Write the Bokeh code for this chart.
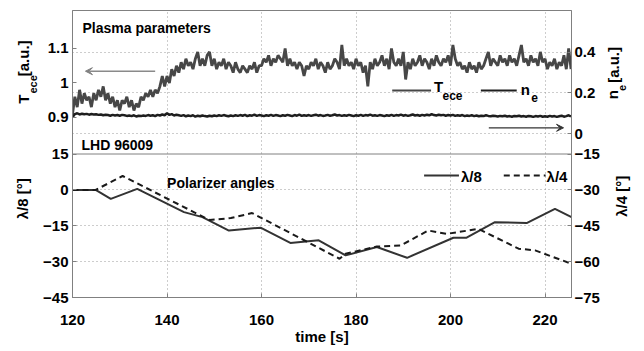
import numpy as np
from math import pi
from bokeh.plotting import figure
from bokeh.layouts import row
from bokeh.models import Range1d, LinearAxis, FixedTicker, Label, Arrow, VeeHead, Span
from bokeh.embed import file_html
from bokeh.resources import INLINE

# ---------------- data ----------------
sample_start = 120.0
sample_step = 0.5
t_ece = [
    0.91, 0.96, 0.93, 0.98, 0.94, 0.97, 0.95, 0.96, 0.93, 0.97,
    0.95, 0.98, 0.96, 0.99, 0.95, 0.97, 0.94, 0.96, 0.93, 0.95,
    0.92, 0.95, 0.94, 0.96, 0.93, 0.95, 0.92, 0.94, 0.93, 0.96,
    0.95, 0.97, 0.96, 0.98, 0.96, 0.98, 0.97, 0.99, 1.02, 0.99,
    1.02, 1.00, 1.04, 1.02, 1.05, 1.03, 1.06, 1.04, 1.07, 1.05,
    1.06, 1.04, 1.07, 1.09, 1.05, 1.07, 1.05, 1.08, 1.09, 1.05,
    1.07, 1.04, 1.06, 1.05, 1.07, 1.04, 1.06, 1.05, 1.03, 1.06,
    1.04, 1.03, 1.05, 1.04, 1.03, 1.05, 1.04, 1.06, 1.03, 1.05,
    1.05, 1.07, 1.06, 1.08, 1.05, 1.07, 1.06, 1.08, 1.07, 1.06,
    1.10, 1.05, 1.07, 1.05, 1.06, 1.04, 1.06, 1.05, 1.02, 1.05,
    1.04, 1.06, 1.05, 1.07, 1.04, 1.06, 1.05, 1.03, 1.06, 1.04,
    1.05, 1.07, 1.06, 1.04, 1.11, 1.05, 1.07, 1.05, 1.06, 1.04,
    1.07, 1.05, 1.06, 1.03, 1.05, 0.99, 1.06, 1.04, 1.07, 1.05,
    1.06, 1.08, 1.05, 1.07, 1.04, 1.10, 1.06, 1.05, 1.07, 1.05,
    1.09, 1.01, 1.06, 1.04, 1.07, 1.05, 1.06, 1.08, 1.05, 1.07,
    1.06, 1.04, 1.07, 1.05, 1.08, 1.06, 1.05, 1.07, 1.06, 1.08,
    1.05, 1.11, 1.07, 1.05, 1.06, 1.04, 1.05, 1.03, 1.06, 1.04,
    1.05, 1.03, 1.06, 1.04, 1.05, 1.07, 1.09, 1.05, 1.07, 1.06,
    1.05, 1.08, 1.06, 1.07, 1.05, 1.08, 1.06, 1.07, 1.05, 1.08,
    1.11, 1.06, 1.07, 1.05, 1.08, 1.06, 1.07, 1.05, 1.09, 1.06,
    1.07, 1.04, 1.06, 1.05, 1.07, 1.04, 1.06, 1.05, 1.08, 1.04,
    1.10, 1.04,
]
n_e = [
    0.080, 0.096, 0.100, 0.094, 0.098, 0.095, 0.097, 0.093, 0.096, 0.094,
    0.095, 0.092, 0.094, 0.090, 0.093, 0.091, 0.088, 0.092, 0.089, 0.091,
    0.088, 0.092, 0.090, 0.087, 0.089, 0.086, 0.090, 0.084, 0.088, 0.086,
    0.089, 0.087, 0.091, 0.088, 0.090, 0.086, 0.092, 0.089, 0.094, 0.090,
    0.100, 0.092, 0.096, 0.089, 0.093, 0.090, 0.087, 0.091, 0.085, 0.089,
    0.086, 0.090, 0.083, 0.088, 0.085, 0.089, 0.086, 0.084, 0.088, 0.085,
    0.089, 0.086, 0.090, 0.087, 0.091, 0.088, 0.085, 0.089, 0.086, 0.090,
    0.087, 0.091, 0.088, 0.092, 0.086, 0.090, 0.088, 0.093, 0.087, 0.091,
    0.089, 0.086, 0.090, 0.088, 0.092, 0.087, 0.091, 0.089, 0.086, 0.090,
    0.088, 0.092, 0.089, 0.086, 0.091, 0.088, 0.093, 0.087, 0.090, 0.088,
    0.091, 0.087, 0.090, 0.093, 0.088, 0.091, 0.087, 0.089, 0.092, 0.088,
    0.090, 0.094, 0.089, 0.091, 0.087, 0.090, 0.088, 0.092, 0.089, 0.086,
    0.090, 0.088, 0.092, 0.087, 0.091, 0.089, 0.093, 0.088, 0.090, 0.087,
    0.091, 0.089, 0.086, 0.090, 0.088, 0.092, 0.087, 0.091, 0.089, 0.093,
    0.088, 0.091, 0.087, 0.090, 0.094, 0.089, 0.091, 0.088, 0.092, 0.089,
    0.093, 0.090, 0.096, 0.091, 0.089, 0.093, 0.090, 0.092, 0.088, 0.091,
    0.089, 0.092, 0.087, 0.090, 0.088, 0.091, 0.086, 0.089, 0.087, 0.090,
    0.086, 0.089, 0.085, 0.088, 0.086, 0.090, 0.087, 0.085, 0.088, 0.086,
    0.084, 0.087, 0.085, 0.088, 0.084, 0.086, 0.083, 0.087, 0.085, 0.088,
    0.084, 0.086, 0.083, 0.087, 0.085, 0.082, 0.086, 0.084, 0.087, 0.083,
    0.085, 0.083, 0.087, 0.084, 0.086, 0.082, 0.085, 0.088, 0.083, 0.086,
    0.090, 0.084,
]
l8_time = [120, 124.9, 128.1, 133.7, 143.6, 147.5, 153.1, 159.8, 166.1, 172.1,
           177.8, 184.4, 190.8, 200.6, 203.4, 209.4, 216.1, 222.1, 225.6]
l8_angle = [0, 0, -3.75, 0.4, -9.3, -11.4, -17, -15.8, -22.2, -21.1,
            -27.4, -23.9, -28.4, -20, -20, -13.5, -13.9, -7.9, -11.4]
l4_time = [120, 124.9, 130.6, 149.0, 153.5, 158.0, 176.5, 177.8, 184.4, 189.4,
           195.3, 199.2, 205.9, 214.4, 217.9, 225.6]
l4_angle = [-30, -30, -24.2, -42.6, -41.8, -39.7, -58.8, -56.7, -53.7, -53.3,
            -47.0, -48.4, -46.3, -54.6, -55.3, -60.9]

x_ticks = [120, 140, 160, 180, 200, 220]
tece_ticks = [0.9, 1.0, 1.1]
tece_tick_labels = ["0.9", "1", "1.1"]
ne_ticks = [0.0, 0.2, 0.4]
ne_tick_labels = ["0", "0.2", "0.4"]
l8_ticks = [-45, -30, -15, 0, 15]
l8_tick_labels = ["\u221245", "\u221230", "\u221215", "0", "15"]
l4_ticks = [-75, -60, -45, -30, -15]
l4_tick_labels = ["\u221275", "\u221260", "\u221245", "\u221230", "\u221215"]

X_RANGE = (120.0, 225.6)
TECE_RANGE = (0.794, 1.210)
NE_RANGE = (-0.101, 0.607)
L8_RANGE = (-45.0, 15.0)
L4_RANGE = (-75.0, -15.0)

# ---------------- layout (page pixels) ----------------
H = 349
LEFT_W = 40          # left strip for the y titles
MAIN_W = 562         # main figure
RIGHT_W = 38         # right strip for the y titles
FL, FR, FT, FB = 72, 573, 10, 297   # frame edges on the page
FONT = "Liberation Sans"
FRAME_C = "#808080"

t_samples = sample_start + sample_step * np.arange(len(t_ece))

def tx(px):
    return X_RANGE[0] + (px - FL) / (FR - FL) * (X_RANGE[1] - X_RANGE[0])

def my(py):
    return (FB - py) / (FB - FT) * 2.0

def top_range(r):
    lo, hi = r
    return Range1d(lo - (hi - lo), hi)

def bot_range(r):
    lo, hi = r
    return Range1d(lo, hi + (hi - lo))

def pos_top(v, r):
    return 1.0 + (v - r[0]) / (r[1] - r[0])

def pos_bot(v, r):
    return (v - r[0]) / (r[1] - r[0])

p = figure(width=MAIN_W, height=H, x_range=Range1d(*X_RANGE), y_range=Range1d(0, 2),
           output_backend="svg", toolbar_location=None,
           min_border_left=FL - LEFT_W, min_border_right=LEFT_W + MAIN_W - FR,
           min_border_top=FT, min_border_bottom=H - FB)
p.background_fill_color = "white"
p.border_fill_color = "white"
p.outline_line_color = FRAME_C
p.outline_line_width = 1

p.extra_y_ranges = {
    "tece": top_range(TECE_RANGE),
    "ne": top_range(NE_RANGE),
    "l8": bot_range(L8_RANGE),
    "l4": bot_range(L4_RANGE),
}

# data lines
p.line(t_samples, t_ece, y_range_name="tece", line_color="#474747", line_width=2.8)
p.line(t_samples, n_e, y_range_name="ne", line_color="#1e1e1e", line_width=2.5)
p.line(l8_time, l8_angle, y_range_name="l8", line_color="#333333", line_width=2)
p.line(l4_time, l4_angle, y_range_name="l4", line_color="#1a1a1a", line_width=2,
       line_dash="6 4")

def style_axis(ax, standoff):
    ax.axis_line_color = FRAME_C
    ax.major_tick_line_color = FRAME_C
    ax.major_tick_in = 4
    ax.major_tick_out = 0
    ax.minor_tick_line_color = None
    ax.major_label_text_font = FONT
    ax.major_label_text_font_style = "bold"
    ax.major_label_text_font_size = "15px"
    ax.major_label_text_color = "black"
    ax.major_label_standoff = standoff

# left axis: lambda/8 (bottom panel) and T_ece (top panel)
left_pos = [pos_bot(v, L8_RANGE) for v in l8_ticks] + [pos_top(v, TECE_RANGE) for v in tece_ticks]
left_lab = l8_tick_labels + tece_tick_labels
left = p.left[0]
left.ticker = FixedTicker(ticks=left_pos)
left.major_label_overrides = dict(zip(left_pos, left_lab))
style_axis(left, 4)

# right axis: lambda/4 (bottom panel) and n_e (top panel)
right_pos = [pos_bot(v, L4_RANGE) for v in l4_ticks] + [pos_top(v, NE_RANGE) for v in ne_ticks]
right_lab = l4_tick_labels + ne_tick_labels
right = LinearAxis(ticker=FixedTicker(ticks=right_pos),
                   major_label_overrides=dict(zip(right_pos, right_lab)))
style_axis(right, 3)
p.add_layout(right, "right")

# x axis
xa = p.below[0]
xa.ticker = FixedTicker(ticks=x_ticks)
style_axis(xa, 17)
xa.axis_label = "time [s]"
xa.axis_label_text_font = FONT
xa.axis_label_text_font_style = "bold"
xa.axis_label_text_font_size = "15px"
xa.axis_label_text_color = "black"
xa.axis_label_standoff = 0

# grids
p.xgrid.grid_line_color = "#9a9a9a"
p.xgrid.grid_line_dash = "1 3"
p.xgrid.grid_line_width = 1
grid_pos = [pos_bot(v, L8_RANGE) for v in [-30, -15, 0]] + [pos_top(v, NE_RANGE) for v in ne_ticks]
p.ygrid.ticker = FixedTicker(ticks=grid_pos)
p.ygrid.grid_line_color = "#9a9a9a"
p.ygrid.grid_line_dash = "1 3"
p.ygrid.grid_line_width = 1

# panel separator
p.add_layout(Span(location=1.0, dimension="width", line_color=FRAME_C, line_width=1))

def lab(fig, text, x, y, size="14px", align="left", baseline="middle", angle=0.0):
    fig.add_layout(Label(x=x, y=y, text=text, angle=angle,
                         text_font=FONT, text_font_style="bold", text_font_size=size,
                         text_align=align, text_baseline=baseline, text_color="black"))

# panel texts
lab(p, "Plasma parameters", tx(82), my(27.5))
lab(p, "LHD 96009", tx(81), my(144))
lab(p, "Polarizer angles", tx(167), my(182))

# arrows
p.add_layout(Arrow(end=VeeHead(size=7, fill_color="#808080", line_color="#808080"),
                   x_start=tx(155), y_start=my(70.7), x_end=tx(85), y_end=my(70.7),
                   line_color="#8a8a8a", line_width=1.5))
p.add_layout(Arrow(end=VeeHead(size=7, fill_color="#333333", line_color="#333333"),
                   x_start=tx(490), y_start=my(127.3), x_end=tx(565), y_end=my(127.3),
                   line_color="#333333", line_width=1.2))

# legends (top panel)
p.line([tx(393), tx(432)], [my(90), my(90)], line_color="#474747", line_width=2)
lab(p, "T", tx(435), my(86), size="15px")
lab(p, "ece", tx(443.5), my(95), size="12px")
p.line([tx(482), tx(518)], [my(90), my(90)], line_color="#1e1e1e", line_width=2)
lab(p, "n", tx(522), my(89), size="15px")
lab(p, "e", tx(532.5), my(97), size="12px")

# legends (bottom panel)
p.line([tx(425), tx(460)], [my(175), my(175)], line_color="#333333", line_width=2)
lab(p, "\u03bb/8", tx(462), my(176), size="15px")
p.line([tx(505), tx(547)], [my(175), my(175)], line_color="#1a1a1a", line_width=2, line_dash="6 4")
lab(p, "\u03bb/4", tx(548), my(176), size="15px")

# side strips holding the two y titles on each side (data units = page pixels)
def strip(x0, w):
    f = figure(width=w, height=H, x_range=Range1d(x0, x0 + w), y_range=Range1d(H, 0),
               x_axis_type=None, y_axis_type=None, output_backend="svg",
               toolbar_location=None, min_border_left=0, min_border_right=0,
               min_border_top=0, min_border_bottom=0)
    f.outline_line_color = None
    f.background_fill_color = "white"
    f.border_fill_color = "white"
    return f

ls = strip(0, LEFT_W)
lab(ls, "T", 23, 113.5, size="15px", angle=pi / 2)
lab(ls, "ece", 32, 101, size="11px", angle=pi / 2)
lab(ls, "[a.u.]", 23, 80, size="15px", angle=pi / 2)
lab(ls, "\u03bb/8 [\u00b0]", 22, 229, size="15px", align="center", angle=pi / 2)

rs = strip(LEFT_W + MAIN_W, RIGHT_W)
lab(rs, "n", 612, 108, size="15px", angle=pi / 2)
lab(rs, "e", 621, 98, size="11px", angle=pi / 2)
lab(rs, "[a.u.]", 613, 88, size="15px", angle=pi / 2)
lab(rs, "\u03bb/4 [\u00b0]", 621, 226, size="15px", align="center", angle=pi / 2)

layout = row(ls, p, rs)
open("out.html", "w").write(file_html(layout, INLINE))
